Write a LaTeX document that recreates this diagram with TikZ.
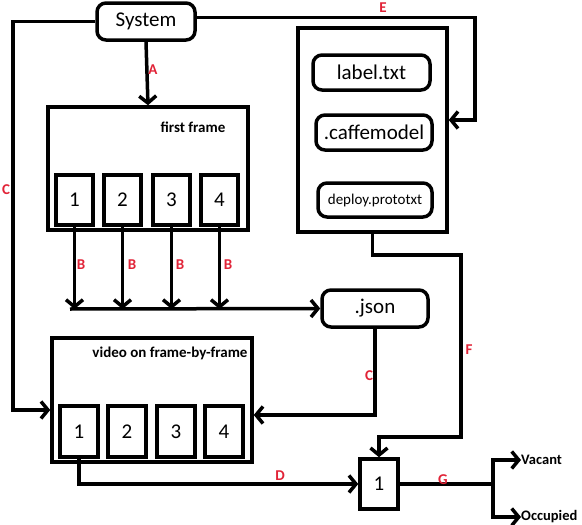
\documentclass[tikz,border=0pt]{standalone}
\usepackage{fontspec}
\setmainfont{Carlito}
\usetikzlibrary{arrows.meta}
\definecolor{lblred}{RGB}{225,35,55}
\tikzset{
  lw/.style={line width=3.5pt},
  arr/.style={lw,-{Straight Barb[length=7pt,width=17pt,line width=3.5pt]}},
  plain/.style={lw},
  rbox/.style={draw,lw,rounded corners=9pt,inner sep=0pt,font=\fontsize{21}{21}\selectfont},
  sbox/.style={draw,lw,rectangle,inner sep=0pt,font=\fontsize{21}{21}\selectfont},
  bigbox/.style={draw,lw,rectangle,inner sep=0pt},
  ttl/.style={font=\bfseries\fontsize{15}{15}\selectfont,inner sep=0pt},
  lbl/.style={text=lblred,font=\bfseries\fontsize{15}{15}\selectfont,inner sep=0pt},
  outl/.style={font=\bfseries\fontsize{14.5}{14.5}\selectfont,inner sep=0pt,anchor=west},
}
\begin{document}
\begin{tikzpicture}[x=1pt,y=-1pt]
\useasboundingbox (0,0) rectangle (582,525);
% System
\node[rbox,minimum width=98pt,minimum height=37pt] (sys) at (146,21.5) {System};
% first frame box
\node[bigbox,minimum width=200pt,minimum height=123pt] (ff) at (148,168.5) {};
\node[ttl] (fft) at (193,127) {first frame};
\node[sbox,minimum width=37pt,minimum height=50pt] (f1) at (74.5,200) {1};
\node[sbox,minimum width=37pt,minimum height=50pt] (f2) at (122.5,200) {2};
\node[sbox,minimum width=37pt,minimum height=50pt] (f3) at (171.5,200) {3};
\node[sbox,minimum width=37pt,minimum height=50pt] (f4) at (219.5,200) {4};
% model box
\node[bigbox,minimum width=149pt,minimum height=204pt] (mdl) at (372.5,130) {};
\node[rbox,minimum width=117pt,minimum height=35pt] (lab) at (371.5,72.5) {label.txt};
\node[rbox,minimum width=116pt,minimum height=35pt] (caf) at (374,132.5) {.caffemodel};
\node[rbox,minimum width=114pt,minimum height=34pt,font=\fontsize{15}{15}\selectfont] (dep) at (375,200) {deploy.prototxt};
% json
\node[rbox,minimum width=106pt,minimum height=37pt] (json) at (375,308.5) {.json};
% video box
\node[bigbox,minimum width=200pt,minimum height=124pt] (vid) at (152,400) {};
\node[ttl] (vidt) at (170,353) {video on frame-by-frame};
\node[sbox,minimum width=38pt,minimum height=51pt] (v1) at (79,431.5) {1};
\node[sbox,minimum width=38pt,minimum height=51pt] (v2) at (127,431.5) {2};
\node[sbox,minimum width=38pt,minimum height=51pt] (v3) at (176,431.5) {3};
\node[sbox,minimum width=38pt,minimum height=51pt] (v4) at (224,431.5) {4};
% output
\node[sbox,minimum width=38pt,minimum height=50pt] (out) at (379,484) {1};
\node[outl] (vac) at (521,460) {Vacant};
\node[outl] (occ) at (521,517) {Occupied};
\coordinate (split) at (493,484);
\coordinate (bus) at (70,309);
% connectors
\draw[arr] (sys.south) -- (ff.north);
\draw[arr] (sys.west) -| (13,410) -- (vid.west |- 13,410);
\draw[arr] ([yshift=4pt]sys.east) -| (475,120) -- (mdl.east |- 475,120);
\draw[arr] (f1.south) -- (f1.south |- bus);
\draw[arr] (f2.south) -- (f2.south |- bus);
\draw[arr] (f3.south) -- (f3.south |- bus);
\draw[arr] (f4.south) -- (f4.south |- bus);
\draw[arr] (bus) -- (json.west);
\draw[arr] (json.south) |- (vid.east |- 0,415);
\draw[arr] (mdl.south) |- (461,255) |- (out.north |- 0,437) -- (out.north);
\draw[arr] (v1.south) |- (out.west);
\draw[plain] (out.east) -- (split);
\draw[arr] (split) |- (vac.west);
\draw[arr] (split) |- (occ.west);
% labels
\node[lbl] at (153,70) {A};
\node[lbl] at (81,265) {B};
\node[lbl] at (132,265) {B};
\node[lbl] at (180,265) {B};
\node[lbl] at (228,265) {B};
\node[lbl] at (6,190) {C};
\node[lbl] at (369,376) {C};
\node[lbl] at (280,476) {D};
\node[lbl] at (383,8) {E};
\node[lbl] at (469,350) {F};
\node[lbl] at (443,480) {G};
\end{tikzpicture}
\end{document}
